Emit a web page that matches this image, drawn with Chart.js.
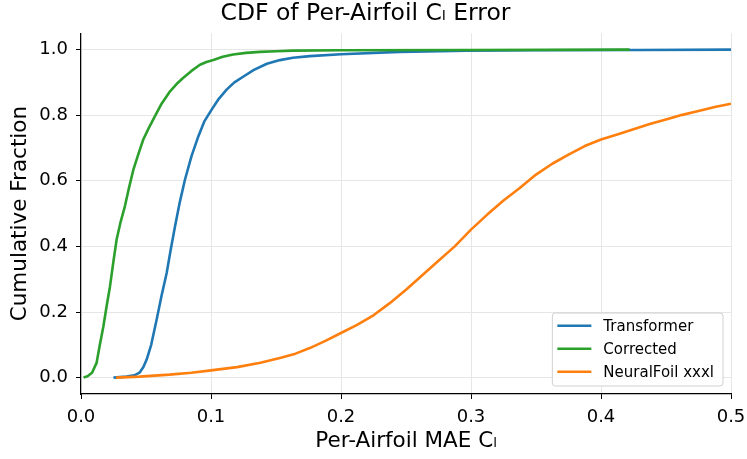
<!DOCTYPE html>
<html>
<head>
<meta charset="utf-8">
<script src="https://cdn.jsdelivr.net/npm/chart.js@4"></script>
<style>
  body { margin: 0; background: #fff; }
</style>
</head>
<body>
<canvas id="cdfChart" width="747" height="459"></canvas>
<script>
  // values
  const xTicks = [0, 0.1, 0.2, 0.3, 0.4, 0.5];
  const yTicks = [0, 0.2, 0.4, 0.6, 0.8, 1.0];

  const transformerX = [0.025, 0.035, 0.041, 0.045, 0.048, 0.0505, 0.054, 0.0582, 0.062, 0.0659, 0.069, 0.0723, 0.076, 0.080, 0.085, 0.0903, 0.095, 0.1005, 0.106, 0.112, 0.118, 0.125, 0.133, 0.143, 0.153, 0.163, 0.176, 0.2, 0.245, 0.297, 0.35, 0.43, 0.5];
  const transformerY = [0, 0.003, 0.007, 0.015, 0.032, 0.055, 0.10, 0.177, 0.25, 0.319, 0.39, 0.461, 0.535, 0.604, 0.675, 0.736, 0.782, 0.817, 0.85, 0.878, 0.90, 0.918, 0.938, 0.957, 0.968, 0.975, 0.98, 0.986, 0.993, 0.997, 0.998, 0.999, 1.0];

  const correctedX = [0.002, 0.005, 0.0085, 0.012, 0.0145, 0.0172, 0.0198, 0.0223, 0.0248, 0.0274, 0.0305, 0.0338, 0.037, 0.0403, 0.044, 0.0479, 0.052, 0.0569, 0.062, 0.0685, 0.0735, 0.0787, 0.085, 0.0915, 0.0965, 0.1018, 0.109, 0.117, 0.127, 0.1377, 0.15, 0.163, 0.2, 0.3, 0.422];
  const correctedY = [0, 0.004, 0.015, 0.045, 0.10, 0.156, 0.22, 0.278, 0.35, 0.421, 0.475, 0.523, 0.58, 0.634, 0.68, 0.726, 0.76, 0.797, 0.835, 0.873, 0.895, 0.914, 0.935, 0.954, 0.962, 0.968, 0.978, 0.985, 0.99, 0.993, 0.995, 0.997, 0.998, 0.999, 1.0];

  const neuralX = [0.027, 0.045, 0.068, 0.085, 0.1, 0.12, 0.138, 0.153, 0.165, 0.176, 0.188, 0.2, 0.212, 0.225, 0.2375, 0.25, 0.2625, 0.275, 0.2875, 0.3, 0.3125, 0.325, 0.3375, 0.35, 0.3625, 0.375, 0.3875, 0.4, 0.4125, 0.425, 0.4375, 0.45, 0.4625, 0.475, 0.4875, 0.5];
  const neuralY = [0, 0.003, 0.009, 0.015, 0.022, 0.032, 0.045, 0.06, 0.073, 0.09, 0.112, 0.136, 0.16, 0.19, 0.227, 0.268, 0.312, 0.356, 0.40, 0.451, 0.497, 0.54, 0.578, 0.619, 0.652, 0.68, 0.706, 0.726, 0.741, 0.757, 0.773, 0.787, 0.801, 0.813, 0.825, 0.835];

  const FONT = 'DejaVu Sans';

  function points(xs, ys) {
    return xs.map((x, i) => ({ x: x, y: ys[i] }));
  }

  function series(label, xs, ys, color, order) {
    return {
      label: label,
      data: points(xs, ys),
      borderColor: color,
      backgroundColor: color,
      borderWidth: 2.6,
      borderJoinStyle: 'round',
      pointRadius: 0,
      showLine: true,
      tension: 0,
      order: order
    };
  }

  // matplotlib-style legend box in the lower right corner
  const boxLegend = {
    id: 'boxLegend',
    afterDatasetsDraw(chart) {
      const ctx = chart.ctx;
      const area = chart.chartArea;
      const sets = chart.data.datasets;
      ctx.save();
      ctx.font = '15px "' + FONT + '"';
      let textW = 0;
      sets.forEach(d => { textW = Math.max(textW, ctx.measureText(d.label).width); });
      const w = 6 + 33 + 12 + textW + 9;
      const h = 73;
      const x0 = area.right - 8 - w;
      const y0 = area.bottom - 8 - h;
      ctx.beginPath();
      ctx.roundRect(x0, y0, w, h, 3);
      ctx.fillStyle = 'rgba(255,255,255,0.85)';
      ctx.fill();
      ctx.strokeStyle = '#d0d0d0';
      ctx.lineWidth = 1;
      ctx.stroke();
      sets.forEach((d, i) => {
        const cy = y0 + 12.7 + i * 23;
        ctx.beginPath();
        ctx.moveTo(x0 + 5, cy);
        ctx.lineTo(x0 + 39, cy);
        ctx.strokeStyle = d.borderColor;
        ctx.lineWidth = 2.6;
        ctx.stroke();
        ctx.fillStyle = '#000';
        ctx.textBaseline = 'middle';
        ctx.fillText(d.label, x0 + 51, cy + 1);
      });
      ctx.restore();
    }
  };

  const ctx = document.getElementById('cdfChart').getContext('2d');
  const chart = new Chart(ctx, {
    type: 'scatter',
    data: {
      datasets: [
        series('Transformer', transformerX, transformerY, '#1f77b4', 3),
        series('Corrected', correctedX, correctedY, '#2ca02c', 2),
        series('NeuralFoil xxxl', neuralX, neuralY, '#ff7f0e', 1)
      ]
    },
    options: {
      responsive: false,
      animation: false,
      layout: { padding: { left: 0, right: 16, top: 0, bottom: 0 } },
      plugins: {
        legend: { display: false },
        tooltip: { enabled: false },
        title: {
          display: true,
          text: 'CDF of Per-Airfoil Cₗ Error',
          color: '#000',
          font: { family: FONT, size: 23.5, weight: 'normal' },
          padding: { top: 0, bottom: 5 }
        }
      },
      scales: {
        x: {
          type: 'linear',
          min: 0,
          max: 0.5,
          afterBuildTicks: s => { s.ticks = xTicks.map(v => ({ value: v })); },
          afterFit: s => { s.height = 65; s.paddingLeft = 0; s.paddingRight = 0; },
          ticks: {
            color: '#000',
            padding: 8,
            maxRotation: 0,
            font: { family: FONT, size: 18 },
            callback: v => v.toFixed(1)
          },
          grid: { color: '#e6e6e6', lineWidth: 1, tickColor: '#000', tickLength: 5 },
          border: { color: '#000', width: 1.2 },
          title: {
            display: true,
            text: 'Per-Airfoil MAE Cₗ',
            color: '#000',
            font: { family: FONT, size: 21.5 },
            padding: { top: 5, bottom: 5 }
          }
        },
        y: {
          type: 'linear',
          min: -0.05,
          max: 1.05,
          afterBuildTicks: s => { s.ticks = yTicks.map(v => ({ value: v })); },
          afterFit: s => { s.width = 81; s.paddingTop = 0; s.paddingBottom = 0; },
          ticks: {
            color: '#000',
            padding: 8,
            font: { family: FONT, size: 18 },
            callback: v => v.toFixed(1)
          },
          grid: { color: '#e6e6e6', lineWidth: 1, tickColor: '#000', tickLength: 5 },
          border: { color: '#000', width: 1.2 },
          title: {
            display: true,
            text: 'Cumulative Fraction',
            color: '#000',
            font: { family: FONT, size: 21.5 },
            padding: { top: 8, bottom: 8 }
          }
        }
      }
    },
    plugins: [boxLegend]
  });
</script>
</body>
</html>
